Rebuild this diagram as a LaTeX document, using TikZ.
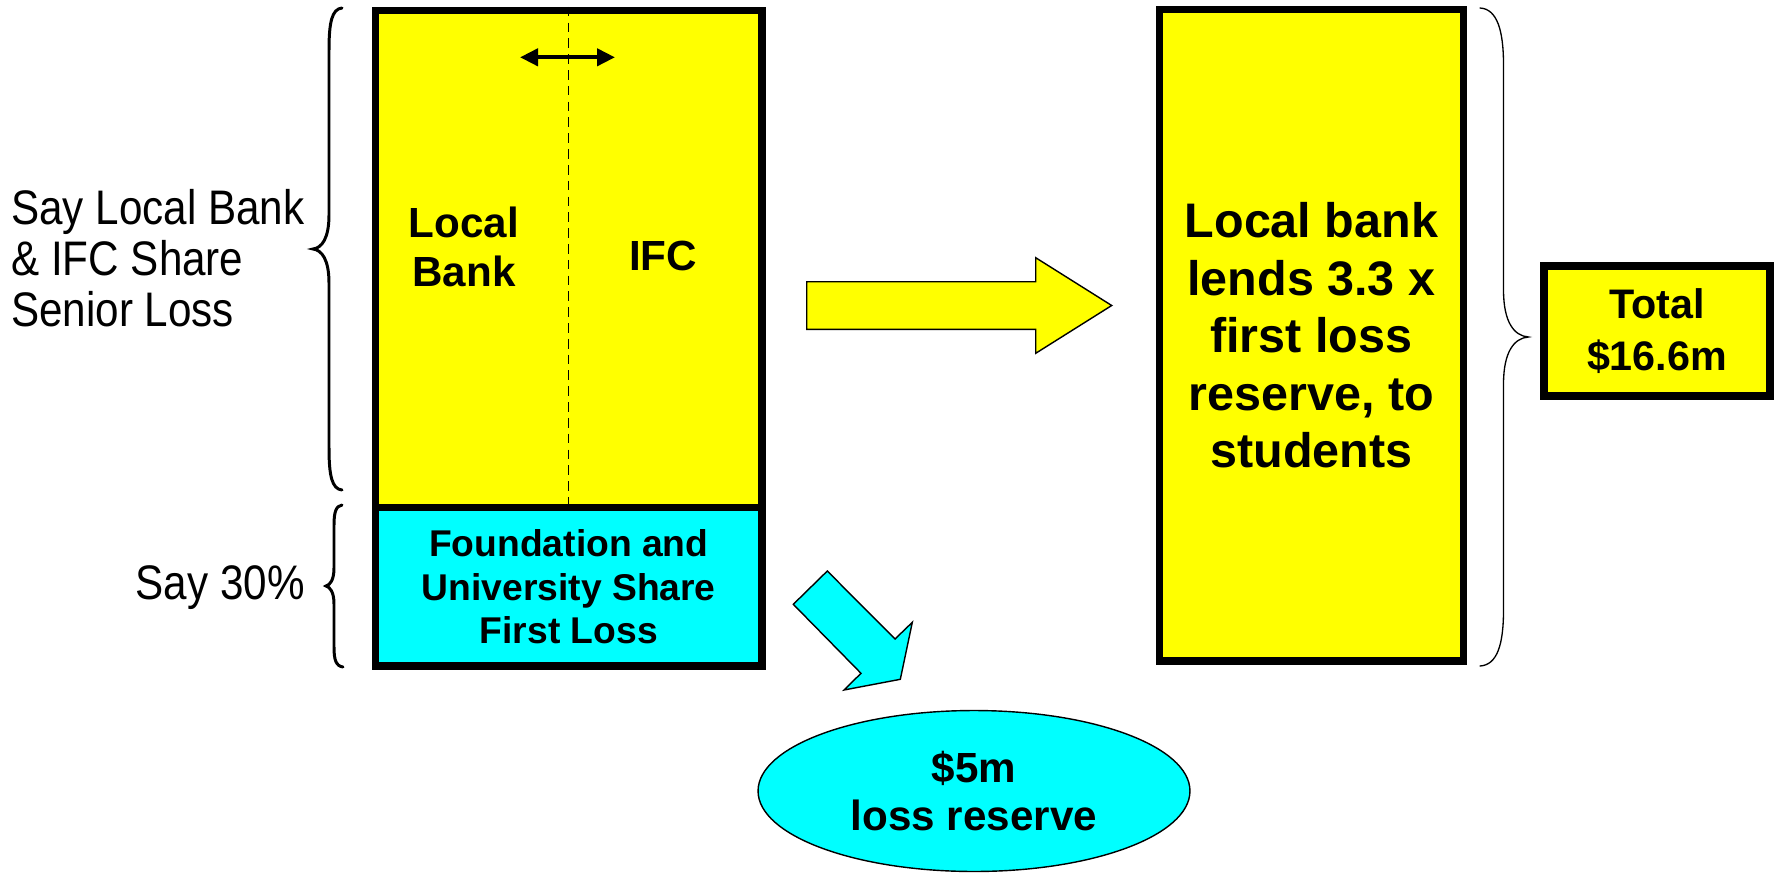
\documentclass[tikz,border=0pt]{standalone}
\usepackage{fontspec}
\setmainfont{Liberation Sans}
\newfontfamily\narrowfont[FakeStretch=0.87]{Liberation Sans}
\usetikzlibrary{
    shapes.geometric,
    arrows.meta
}
\definecolor{boxyellow}{RGB}{255,255,0}
\definecolor{boxcyan}{RGB}{0,255,255}

\begin{document}
\begin{tikzpicture}[x=0.02cm, y=-0.02cm, >={Triangle[length=0.36cm,width=0.34cm]}]
    \tikzstyle{box}=[draw, line width=4.3pt, inner sep=0pt, align=center]
    \tikzstyle{senior}=[box, fill=boxyellow, minimum width=7.73cm, minimum height=9.94cm]
    \tikzstyle{firstloss}=[box, fill=boxcyan, minimum width=7.73cm, minimum height=3.17cm,
        font=\fontsize{21.2}{25}\selectfont\bfseries]
    \tikzstyle{lend}=[box, fill=boxyellow, minimum width=6.08cm, minimum height=13.03cm,
        font=\fontsize{27.6}{32.7}\selectfont\bfseries]
    \tikzstyle{total}=[box, fill=boxyellow, minimum width=4.52cm, minimum height=2.6cm,
        font=\fontsize{23.5}{29.4}\selectfont\bfseries]
    \tikzstyle{reserve}=[draw, ellipse, fill=boxcyan, line width=0.8pt, inner sep=0pt,
        minimum width=8.64cm, minimum height=3.22cm, align=center,
        font=\fontsize{24}{27}\selectfont\bfseries]
    \tikzstyle{tag}=[inner sep=0pt, align=center, font=\fontsize{24}{27.6}\selectfont\bfseries]
    \tikzstyle{side}=[inner sep=0pt, align=left, font=\narrowfont\fontsize{27.6}{29}\selectfont]
    \tikzstyle{brace}=[line width=1.7pt, line cap=round]
    \tikzstyle{blockarrow}=[draw, line width=0.8pt, line join=miter]

    \useasboundingbox (0,0) rectangle (1774,872);

    % stacked loss tranches
    \node[senior] (S) at (568.75, 259) {};
    \node[firstloss] (F) at (568.75, 586.75) {Foundation and\\University Share\\First Loss};
    \draw[dashed, line width=0.8pt, dash pattern=on 5.5pt off 3.5pt] (S.north) -- (S.south);
    \coordinate (dl) at (520, 57.3);
    \coordinate (dr) at (615, 57.3);
    \draw[<->, line width=2.3pt] (dl) -- (dr);
    \node[tag] (LB) at (464, 247) {Local\\Bank};
    \node[tag] (IFC) at (663, 256) {IFC};

    % lending and total
    \node[lend] (L) at (1311.4, 335.25) {Local bank\\lends 3.3 x\\first loss\\reserve, to\\students};
    \node[total] (T) at (1657, 330.9) {Total\\\$16.6m};
    \node[reserve] (R) at (974, 791) {\$5m\\loss reserve};

    % block arrows
    \draw[blockarrow, fill=boxyellow] (806.7,281.7) -- (1035.7,281.7) -- (1035.7,257.7) -- (1111.7,305.5)
        -- (1035.7,353.3) -- (1035.7,329.3) -- (806.7,329.3) -- cycle;
    \draw[blockarrow, fill=boxcyan] (793.3,604.3) -- (827.3,571) -- (895,639) -- (912.3,622.3)
        -- (900.3,679.3) -- (844,690) -- (861,673.3) -- cycle;

    % braces
    \draw[brace] (342,8) .. controls (332,9) and (329,22) .. (329,50) -- (329,215)
        .. controls (329,238) and (322,248) .. (313,249) .. controls (322,250) and (329,260) .. (329,283)
        -- (329,448) .. controls (329,476) and (332,489) .. (342,490);
    \draw[brace] (342,505) .. controls (336,506) and (334,512) .. (334,525) -- (334,568)
        .. controls (334,580) and (330,585) .. (326,586) .. controls (330,587) and (334,592) .. (334,604)
        -- (334,647) .. controls (334,660) and (336,666) .. (343,667);
    \draw[brace, line width=0.75pt] (1480,8) .. controls (1497,9) and (1503.5,30) .. (1503.5,65) -- (1503.5,290)
        .. controls (1503.5,322) and (1514,336) .. (1528.5,337) .. controls (1514,338) and (1503.5,352) .. (1503.5,384)
        -- (1503.5,610) .. controls (1503.5,645) and (1497,665) .. (1480,666);

    \node[side, anchor=west] (SL) at (11, 258) {Say Local Bank\\\& IFC Share\\Senior Loss};
    \node[side, anchor=east] (SP) at (305, 588) {Say 30\%};
\end{tikzpicture}
\end{document}
